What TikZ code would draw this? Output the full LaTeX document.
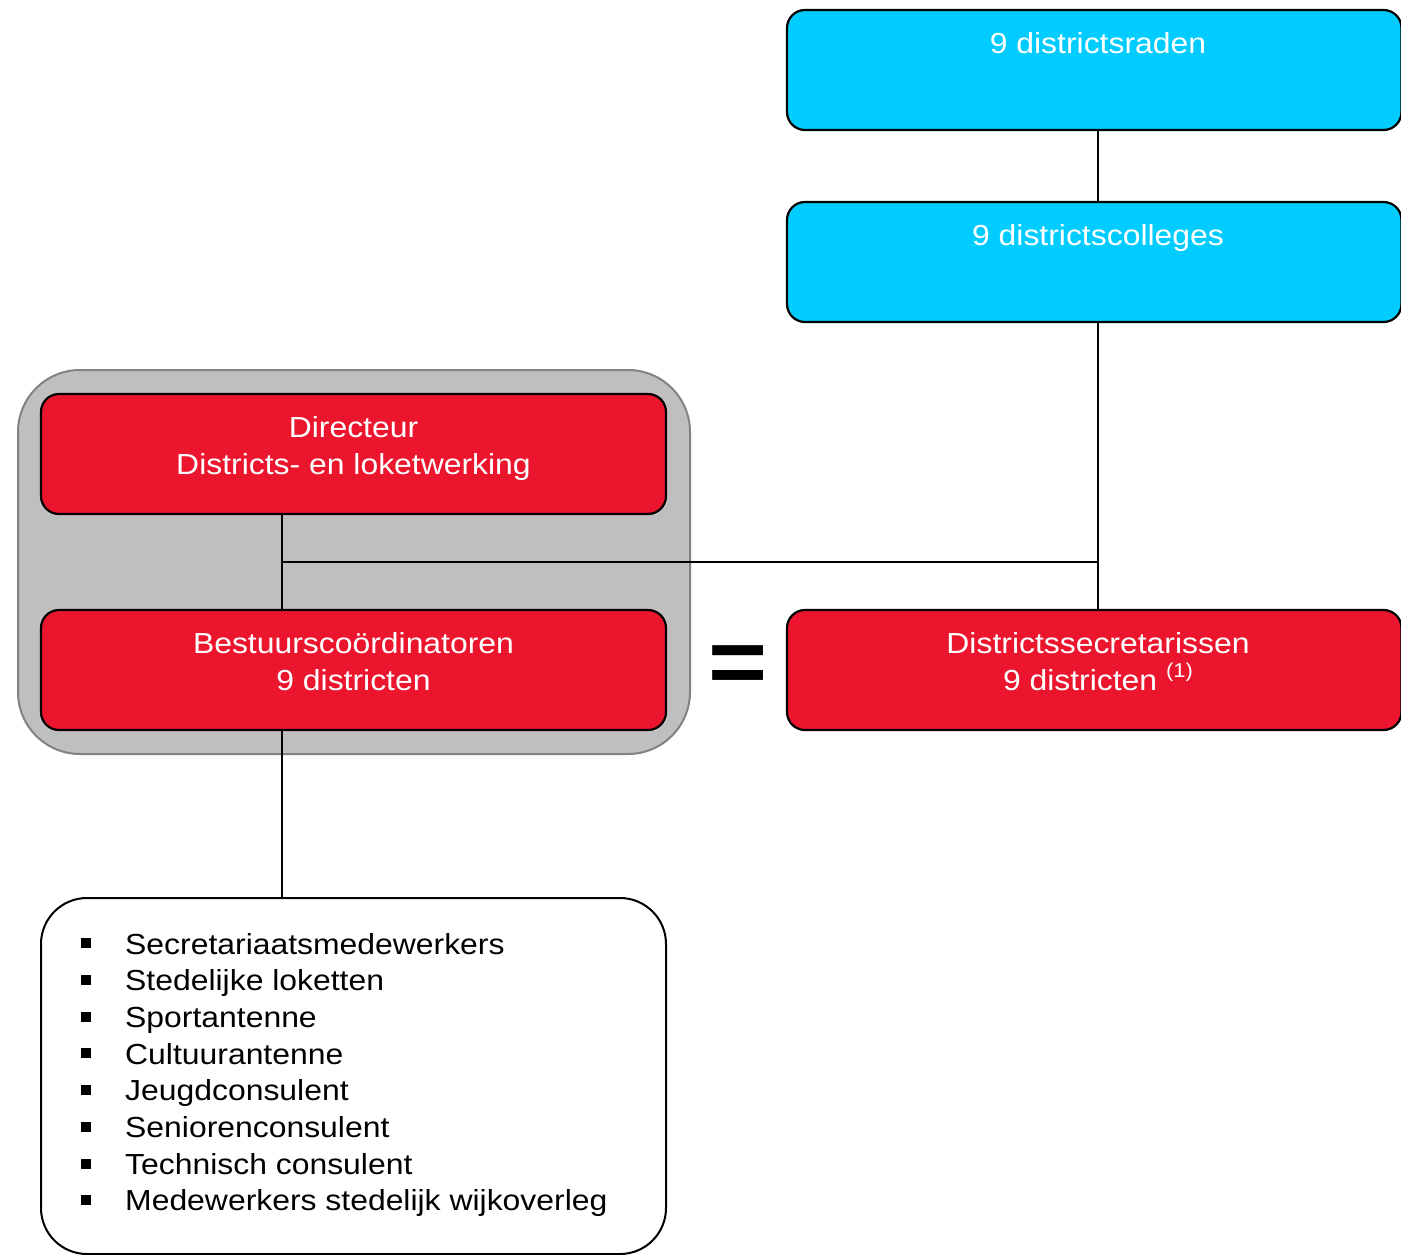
\documentclass[tikz,border=0pt]{standalone}
\usepackage{fontspec}
\setmainfont{Liberation Sans}[FakeStretch=1.1]
\definecolor{cblue}{RGB}{0,204,255}
\definecolor{cred}{RGB}{236,21,46}
\definecolor{cgrey}{RGB}{191,191,191}
\definecolor{cgreyline}{RGB}{130,130,130}
\newcommand{\listbullet}{\makebox[44.5pt][l]{\rule[5.7pt]{10.5pt}{10pt}}}
\begin{document}
\begin{tikzpicture}[x=1pt,y=-1pt,
  every node/.style={inner sep=0pt,outer sep=0pt},
  box/.style={draw=black,line width=2.2pt,rounded corners=18pt},
  bluebox/.style={box,fill=cblue},
  redbox/.style={box,fill=cred},
  groupbox/.style={draw=cgreyline,line width=2pt,fill=cgrey,rounded corners=62pt},
  listbox/.style={draw=black,line width=2pt,fill=white,rounded corners=46pt},
  conn/.style={draw=black,line width=1.8pt},
  wtxt/.style={text=white,font=\fontsize{29}{37}\selectfont,align=center},
]
\clip (0,0) rectangle (1401,1255);
\fill[white] (0,0) rectangle (1401,1255);

% boxes
\node[groupbox,minimum width=672pt,minimum height=384pt] (grp) at (354,562) {};
\node[bluebox,minimum width=614.5pt,minimum height=120pt] (b1) at (1094.25,70) {};
\node[bluebox,minimum width=614.5pt,minimum height=120pt] (b2) at (1094.25,262) {};
\node[redbox,minimum width=625pt,minimum height=120pt] (r1) at (353.5,454) {};
\node[redbox,minimum width=625pt,minimum height=120pt] (r2) at (353.5,670) {};
\node[redbox,minimum width=614.5pt,minimum height=120pt] (r3) at (1094.25,670) {};
\node[listbox,minimum width=625pt,minimum height=356pt] (lst) at (353.5,1076) {};

% junctions
\coordinate (j) at (282,562);
\coordinate (cx) at (1098,562);

% connectors
\draw[conn] (b1.south -| cx) -- (b2.north -| cx);
\draw[conn] (b2.south -| cx) -- (r3.north -| cx);
\draw[conn] (r1.south -| j) -- (r2.north -| j);
\draw[conn] (j) -- (cx);
\draw[conn] (r2.south -| j) -- (lst.north -| j);

% texts
\node[wtxt,anchor=base] (tb1) at (1098,53.5) {9 districtsraden};
\node[wtxt,anchor=base] (tb2) at (1098,245.5) {9 districtscolleges};
\node[wtxt,anchor=north] (tr1) at (353.5,416.2) {Directeur\\Districts- en loketwerking};
\node[wtxt,anchor=north] (tr2) at (353.5,632.2) {Bestuurscoördinatoren\\9 districten};
\node[wtxt,anchor=north] (tr3) at (1098,632.2) {Districtssecretarissen\\9 districten \raisebox{13pt}{\fontsize{20}{20}\selectfont(1)}};
\node[font=\fontsize{92}{92}\selectfont\bfseries] (eq) at (738,670) {=};
\node[anchor=north west,align=left,font=\fontsize{29}{36.71}\selectfont] (items) at (80.7,933) {%
\listbullet Secretariaatsmedewerkers\\
\listbullet Stedelijke loketten\\
\listbullet Sportantenne\\
\listbullet Cultuurantenne\\
\listbullet Jeugdconsulent\\
\listbullet Seniorenconsulent\\
\listbullet Technisch consulent\\
\listbullet Medewerkers stedelijk wijkoverleg};
\end{tikzpicture}
\end{document}
